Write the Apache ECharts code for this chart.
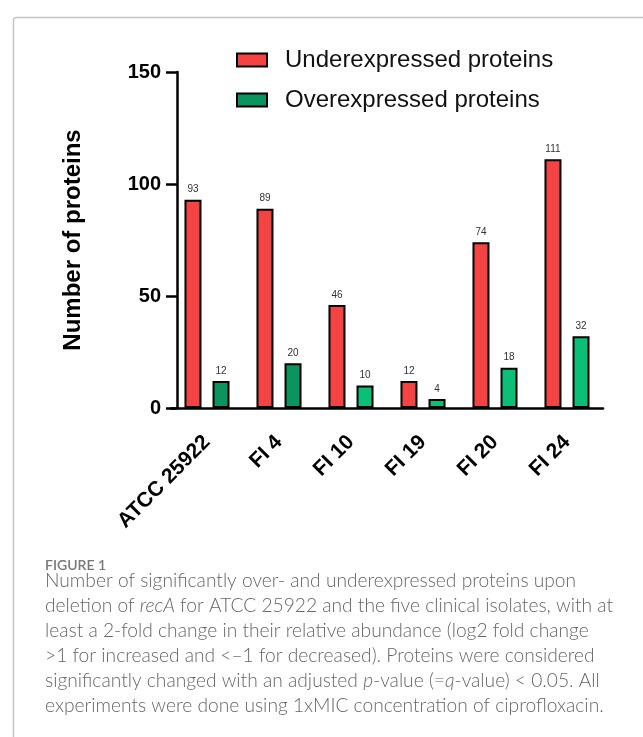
<!DOCTYPE html>
<html>
<head>
<meta charset="utf-8">
<script src="https://cdn.jsdelivr.net/npm/echarts@6/dist/echarts.min.js"></script>
<style>html,body{margin:0;padding:0;background:#fff;}#c{width:643px;height:737px;}</style>
</head>
<body>
<div id="c"></div>
<script>
const categories = ['ATCC 25922', 'FI 4', 'FI 10', 'FI 19', 'FI 20', 'FI 24'];
const underexpressed = [93, 89, 46, 12, 74, 111];
const overexpressed = [12, 20, 10, 4, 18, 32];
const overColors = ['#0b9460', '#0b9460', '#0cbf76', '#0cbf76', '#0cbf76', '#0cbf76'];
const yTicks = [0, 50, 100, 150];
const seriesNames = ['Underexpressed proteins', 'Overexpressed proteins'];
const captionTitle = 'FIGURE 1';
const captionLines = [
  'Number of significantly over- and underexpressed proteins upon',
  'deletion of {i|recA} for ATCC 25922 and the five clinical isolates, with at',
  'least a 2-fold change in their relative abundance (log2 fold change',
  '>1 for increased and <\u20131 for decreased). Proteins were considered',
  'significantly changed with an adjusted {i|p}-value (={i|q}-value) < 0.05. All',
  'experiments were done using 1xMIC concentration of ciprofloxacin.'
];

const chart = echarts.init(document.getElementById('c'), null, {renderer: 'canvas'});
const F = '"Liberation Sans", Arial, sans-serif';
const CF = 'Lato, "Open Sans", sans-serif';

const graphics = [{
  type: 'rect', left: 11, top: 15, silent: true,
  shape: {width: 700, height: 800, r: 3},
  style: {fill: 'none', stroke: '#c4c4c4', lineWidth: 1.5}
}, {
  type: 'text', left: 45, top: 558,
  style: {text: captionTitle, font: '600 14px ' + CF, fill: '#777'}
}];
captionLines.forEach((t, i) => {
  graphics.push({
    type: 'text', left: 45, top: 571 + i * 25,
    style: {
      text: t, fontFamily: CF, fontSize: 19.2, fontWeight: 300, fill: '#666',
      rich: {i: {fontFamily: CF, fontSize: 19.2, fontWeight: 300, fontStyle: 'italic', fill: '#666'}}
    }
  });
});

chart.setOption({
  animation: false,
  textStyle: {fontFamily: F},
  legend: {
    orient: 'vertical', left: 231, top: 43, itemGap: 16,
    itemWidth: 30, itemHeight: 13, icon: 'rect',
    data: seriesNames,
    itemStyle: {borderColor: '#000', borderWidth: 2},
    textStyle: {fontFamily: F, fontSize: 24, color: '#111', padding: [0, 0, 0, 13]}
  },
  grid: {left: 171, width: 432, top: 72, bottom: 329},
  xAxis: {
    type: 'category', data: categories,
    axisLine: {lineStyle: {color: '#000', width: 2.5}},
    axisTick: {alignWithLabel: true, length: 11, lineStyle: {color: '#000', width: 2.5}},
    axisLabel: {rotate: 45, fontFamily: F, fontWeight: 'bold', fontSize: 21, color: '#000', margin: 31}
  },
  yAxis: {
    type: 'value', min: yTicks[0], max: yTicks[yTicks.length - 1], interval: 50,
    offset: -6,
    name: 'Number of proteins', nameLocation: 'middle', nameGap: 92,
    nameTextStyle: {fontFamily: F, fontWeight: 'bold', fontSize: 24, color: '#000'},
    splitLine: {show: false},
    axisLine: {show: true, lineStyle: {color: '#000', width: 2.5}},
    axisTick: {show: true, length: 11, lineStyle: {color: '#000', width: 2.5}},
    axisLabel: {fontFamily: F, fontWeight: 'bold', fontSize: 20, color: '#000', margin: 16}
  },
  series: [{
    name: seriesNames[0], type: 'bar', data: underexpressed,
    barWidth: 17, barGap: '65%',
    itemStyle: {color: '#f44343', borderColor: '#000', borderWidth: 2},
    label: {show: true, position: 'top', distance: 5, fontSize: 10, color: '#333', fontFamily: F}
  }, {
    name: seriesNames[1], type: 'bar',
    data: overexpressed.map((v, i) => ({value: v, itemStyle: {color: overColors[i]}})),
    barWidth: 17,
    itemStyle: {color: '#0b9460', borderColor: '#000', borderWidth: 2},
    label: {show: true, position: 'top', distance: 5, fontSize: 10, color: '#333', fontFamily: F}
  }],
  graphic: graphics
});
</script>
</body>
</html>
